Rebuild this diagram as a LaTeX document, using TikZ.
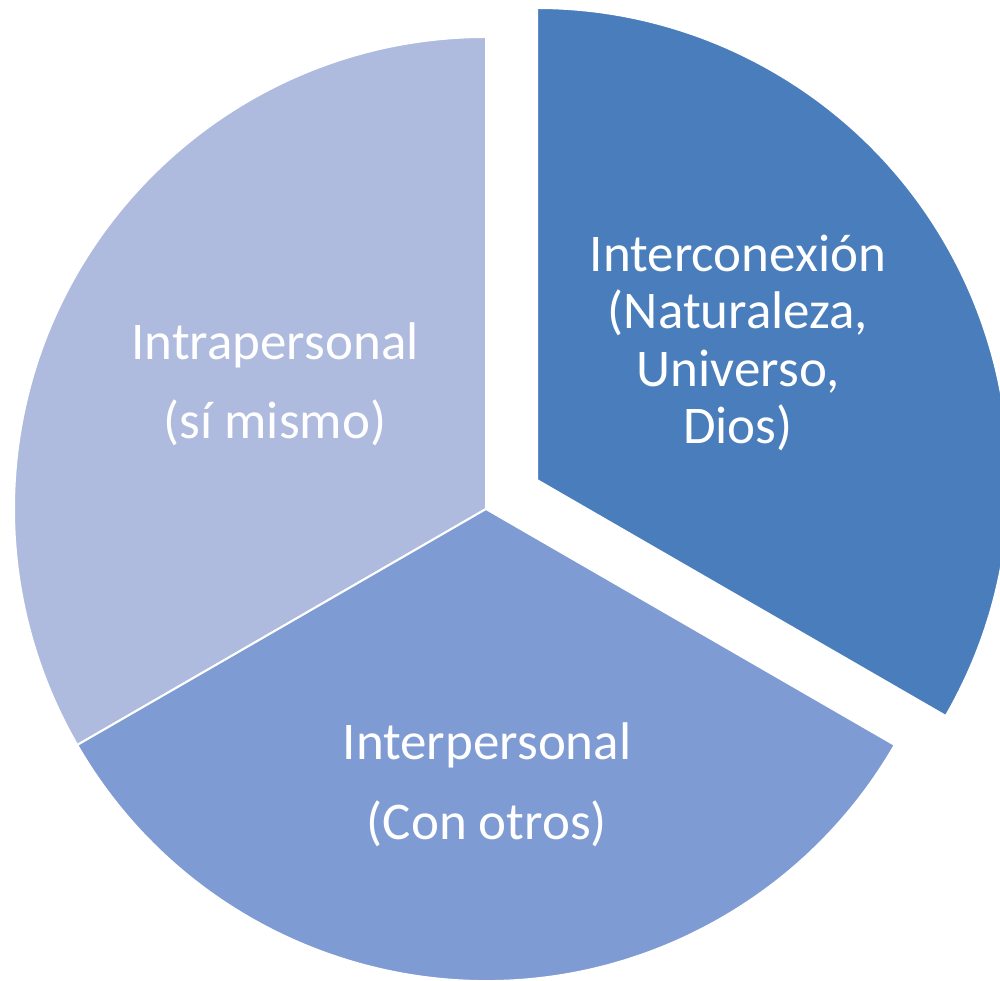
\documentclass[tikz,border=0pt]{standalone}
\usepackage{fontspec}
\setmainfont{Carlito}
\definecolor{cdark}{HTML}{4A7DBB}
\definecolor{cmid}{HTML}{7F9BD3}
\definecolor{clight}{HTML}{AEBADE}
\begin{document}
\begin{tikzpicture}[x=1pt,y=1pt,
  slice/.style={draw=white,line width=2pt,line join=miter},
  lbl/.style={text=white,font=\fontsize{53}{57.5}\selectfont,align=center,anchor=base,inner sep=0pt}]
\useasboundingbox (0,0) rectangle (1000,980);
\clip (0,0) rectangle (1000,980);
\coordinate (C) at (486,471);
\coordinate (E) at (537,500);
\fill[clight] (C) -- ++(90:472) arc[start angle=90,end angle=210,radius=472] -- cycle;
\draw[slice] (C) -- ++(90:472) arc[start angle=90,end angle=210,radius=472] -- cycle;
\fill[cmid] (C) -- ++(210:472) arc[start angle=210,end angle=330,radius=472] -- cycle;
\draw[slice] (C) -- ++(210:472) arc[start angle=210,end angle=330,radius=472] -- cycle;
\fill[cdark] (E) -- ++(-30:472) arc[start angle=-30,end angle=90,radius=472] -- cycle;
\draw[slice] (E) -- ++(-30:472) arc[start angle=-30,end angle=90,radius=472] -- cycle;
\node[lbl] (intra) at (275,541) {Intrapersonal\\[22pt](sí mismo)};
\node[lbl] (inter) at (487,141) {Interpersonal\\[22pt](Con otros)};
\node[lbl] (conex) at (738,536) {Interconexión\\(Naturaleza,\\Universo,\\Dios)};
\end{tikzpicture}
\end{document}
